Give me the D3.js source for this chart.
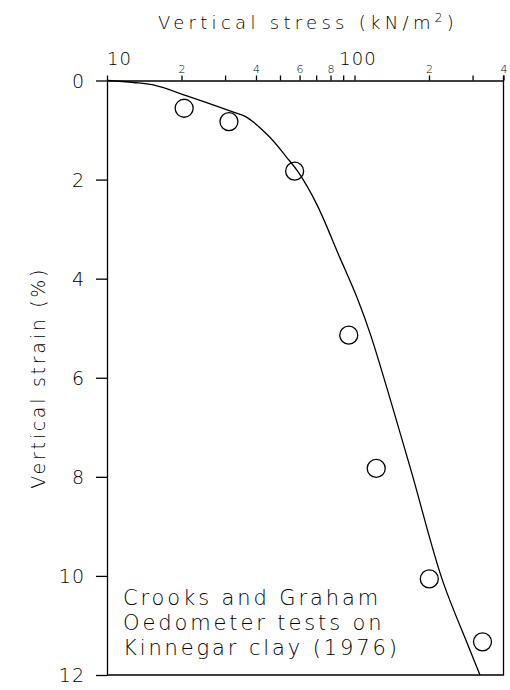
<!DOCTYPE html>
<html>
<head>
<meta charset="utf-8">
<script src="https://cdn.jsdelivr.net/npm/d3@7"></script>
<style>
  body { margin: 0; background: #fff; }
  svg text { font-family: 'DejaVu Sans', sans-serif; font-weight: 200; fill: #000; }
</style>
</head>
<body>
<svg id="chart"></svg>
<script>
const width = 510;
const height = 690;

// model curve
const curveStress = [10, 12.8, 15.4, 21.6, 33.3, 36.6, 45.4, 53, 59.1, 70.1, 87, 103.3, 116.6, 167.6, 225.7, 284.8, 321.4];
const curveStrain = [0, 0.04, 0.09, 0.33, 0.66, 0.74, 1.14, 1.54, 1.84, 2.48, 3.56, 4.43, 5.16, 7.8, 10.06, 11.35, 12];

// oedometer test points
const testStress = [20.5, 31.1, 57.3, 94.8, 122.4, 200.6, 329];
const testStrain = [0.56, 0.83, 1.83, 5.14, 7.83, 10.06, 11.33];

// axes
const stressTicks = [10, 20, 30, 40, 50, 60, 70, 80, 90, 100, 200, 300, 400];
const stressTickLabels = ['10', '2', '', '4', '', '6', '', '8', '', '100', '2', '', '4'];
const strainTicks = [0, 2, 4, 6, 8, 10, 12];
const noteLines = ['Crooks and Graham', 'Oedometer tests on', 'Kinnegar clay (1976)'];

const margin = { top: 80.5, right: 6.5, bottom: 15, left: 107 };

const svg = d3.select('#chart')
  .attr('width', width)
  .attr('height', height);

// stretch a text to a given width with letter spacing (the original font is very wide)
const spreadTo = (sel, target) => {
  const n = sel.text().length;
  const natural = sel.node().getComputedTextLength();
  sel.style('letter-spacing', `${(target - natural) / n}px`);
  return sel;
};

const x = d3.scaleLog()
  .domain([10, 400])
  .range([margin.left, width - margin.right]);

const y = d3.scaleLinear()
  .domain([0, 12])
  .range([margin.top, height - margin.bottom]);

// top axis, ticks pointing up
const xAxis = svg.append('g')
  .attr('transform', `translate(0,${margin.top})`)
  .call(d3.axisTop(x)
    .tickValues(stressTicks)
    .tickSize(5)
    .tickSizeOuter(0)
    .tickFormat(() => ''));
xAxis.selectAll('line, path').attr('stroke', '#000').attr('stroke-width', 1.3);

xAxis.selectAll('.tick')
  .append('text')
  .attr('y', (d, i) => (stressTickLabels[i].length > 1 ? -16 : -8))
  .attr('text-anchor', 'middle')
  .style('font-size', (d, i) => (stressTickLabels[i].length > 1 ? '18px' : '11px'))
  .style('letter-spacing', (d, i) => (stressTickLabels[i].length > 1 ? '1px' : '0px'))
  .attr('dx', (d, i) => (stressTickLabels[i] === '10' ? 12 : stressTickLabels[i] === '100' ? 3 : 0))
  .text((d, i) => stressTickLabels[i]);

// left axis, ticks pointing left
const yAxis = svg.append('g')
  .attr('transform', `translate(${margin.left},0)`)
  .call(d3.axisLeft(y)
    .tickValues(strainTicks)
    .tickSize(11)
    .tickSizeOuter(0)
    .tickFormat(d3.format('d')));
yAxis.selectAll('line, path').attr('stroke', '#000').attr('stroke-width', 1.3);
yAxis.selectAll('text')
  .attr('x', -22)
  .attr('dy', '0.36em')
  .style('font-size', '19px')
  .style('letter-spacing', '1px');

// right and bottom frame
svg.append('path')
  .attr('d', `M${x(400)},${y(0) - 5}V${y(12)}H${x(10)}`)
  .attr('fill', 'none')
  .attr('stroke', '#000')
  .attr('stroke-width', 1.3);

// axis titles
const xTitle = svg.append('text')
  .attr('x', 158)
  .attr('y', 29)
  .style('font-size', '18px');
xTitle.append('tspan').text('Vertical stress (kN/m');
xTitle.append('tspan').attr('dy', -7).style('font-size', '12px').text('2');
xTitle.append('tspan').attr('dy', 7).text(')');
spreadTo(xTitle, 300);

const yTitle = svg.append('text')
  .attr('transform', `translate(45,${(y(0) + y(12)) / 2}) rotate(-90)`)
  .attr('text-anchor', 'middle')
  .style('font-size', '19px')
  .text('Vertical strain (%)');
spreadTo(yTitle, 222);

// model curve
const line = d3.line()
  .curve(d3.curveCatmullRom.alpha(0.5))
  .x(i => x(curveStress[i]))
  .y(i => y(curveStrain[i]));

svg.append('path')
  .attr('d', line(d3.range(curveStress.length)))
  .attr('fill', 'none')
  .attr('stroke', '#000')
  .attr('stroke-width', 1.3);

// test points
svg.append('g')
  .selectAll('circle')
  .data(d3.range(testStress.length))
  .enter()
  .append('circle')
  .attr('cx', i => x(testStress[i]))
  .attr('cy', i => y(testStrain[i]))
  .attr('r', 9)
  .attr('fill', 'none')
  .attr('stroke', '#000')
  .attr('stroke-width', 1.3);

// note
const note = svg.append('g')
  .selectAll('text')
  .data(noteLines)
  .enter()
  .append('text')
  .attr('x', 123)
  .attr('y', (d, i) => 605 + i * 25)
  .style('font-size', '21px')
  .text(d => d);
const noteSpacing = (258 - note.nodes()[0].getComputedTextLength()) / noteLines[0].length;
note.style('letter-spacing', `${noteSpacing}px`);
</script>
</body>
</html>
